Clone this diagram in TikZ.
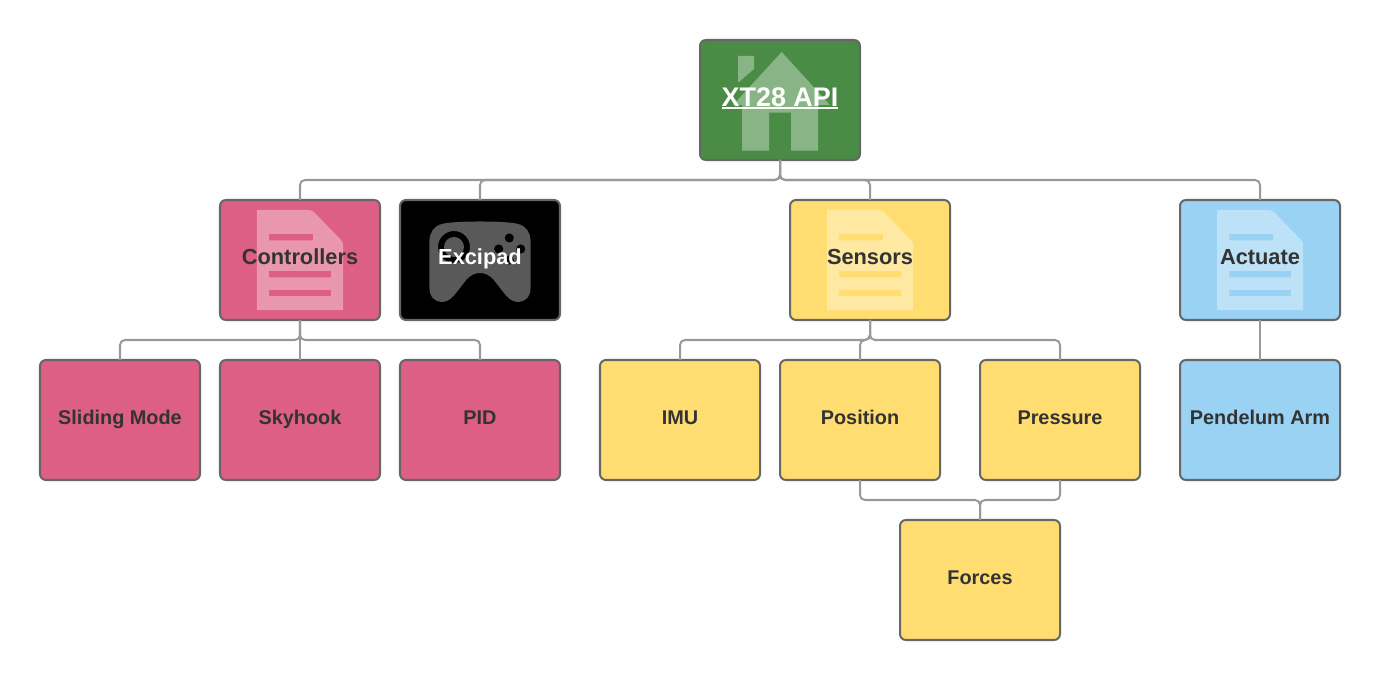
\documentclass[tikz,border=0pt]{standalone}
\usepackage{fontspec}
\usetikzlibrary{backgrounds}
\setmainfont{Liberation Sans}

\definecolor{boxgreen}{HTML}{4A8C46}
\definecolor{boxpink}{HTML}{DE5F85}
\definecolor{boxyellow}{HTML}{FFDD71}
\definecolor{boxblue}{HTML}{9AD2F4}
\definecolor{boxline}{HTML}{666666}
\definecolor{linkline}{HTML}{999999}
\definecolor{boxtext}{HTML}{333333}

\newcommand{\barunder}[1]{\setbox0=\hbox{#1}\rlap{\rule[-1.9pt]{\wd0}{1.15pt}}#1}

\tikzset{
    box/.style={rectangle, draw=boxline, line width=1.15pt, rounded corners=0.12cm, minimum width=3.2cm, minimum height=2.4cm, inner sep=0pt, outer sep=0pt, text height=4.6pt, text depth=0pt, text=boxtext, font=\fontsize{11.3}{13}\selectfont\bfseries},
    bigbox/.style={box, font=\fontsize{12.4}{14}\selectfont\bfseries},
    rootbox/.style={box, text=white, text height=6.9pt, font=\fontsize{15.3}{17}\selectfont\bfseries},
    link/.style={draw=linkline, line width=1.15pt, rounded corners=0.1cm},
    icon/.style={fill=white, fill opacity=0.35, even odd rule, draw=none},
    docicon/.pic={
        \path[icon, x=0.02cm, y=0.02cm] (-43,50) -- (8,50) .. controls (11,50) and (13,49) .. (15,47) -- (41,20) .. controls (43,18) and (43,16) .. (43,14) -- (43,-50) -- (-43,-50) -- cycle
            (-31,26) rectangle (13,19.5)
            (-31,-11) rectangle (31,-17.5)
            (-31,-30) rectangle (31,-36);
    },
    houseicon/.pic={
        \path[icon, x=0.02cm, y=0.02cm] (1.7,48) -- (50,-5) -- (38,-5) -- (38,-50.7) -- (11,-50.7) -- (11,-12.7) -- (-11,-12.7) -- (-11,-50.7) -- (-38,-50.7) -- (-38,-5) -- (-47,-5) -- cycle;
        \path[icon, x=0.02cm, y=0.02cm] (-42,44) -- (-26,44) -- (-26,31) -- (-41,18) -- (-42,18) -- cycle;
    },
    padicon/.pic={
        \path[icon, x=0.02cm, y=0.02cm] (0,38.5) .. controls (15,38.5) and (30,38) .. (38,36) .. controls (46,34) and (50,28) .. (50.5,20)
            -- (50.5,-28) .. controls (50.5,-37) and (45,-42) .. (38,-42) .. controls (32,-42) and (28,-38) .. (24,-33)
            -- (13,-19) .. controls (9,-15) and (5,-13) .. (0,-13) .. controls (-5,-13) and (-9,-15) .. (-13,-19)
            -- (-24,-33) .. controls (-28,-38) and (-32,-42) .. (-38,-42) .. controls (-45,-42) and (-50.5,-37) .. (-50.5,-28)
            -- (-50.5,20) .. controls (-50,28) and (-46,34) .. (-38,36) .. controls (-30,38) and (-15,38.5) .. (0,38.5) -- cycle
            (-26,13) circle (16) (-26,13) circle (10)
            (29.3,22) circle (4.7) (18.7,11) circle (4.7) (40.7,11) circle (4.7) (29.3,0) circle (4.7);
    }
}

\begin{document}
\begin{tikzpicture}
    \useasboundingbox (0,0) rectangle (27.6,13.6);

    % Draw nodes
    \node[rootbox] (root) at (15.6,11.6) {\barunder{XT28 API}};

    \node[bigbox] (controllers) at (6,8.4) {Controllers};
    \node[bigbox, text=white] (excipad) at (9.6,8.4) {Excipad};
    \node[bigbox] (sensors) at (17.4,8.4) {Sensors};
    \node[bigbox] (actuate) at (25.2,8.4) {Actuate};

    \node[box, fill=boxpink] (sliding) at (2.4,5.2) {Sliding Mode};
    \node[box, fill=boxpink] (skyhook) at (6,5.2) {Skyhook};
    \node[box, fill=boxpink] (pid) at (9.6,5.2) {PID};
    \node[box, fill=boxyellow] (imu) at (13.6,5.2) {IMU};
    \node[box, fill=boxyellow] (position) at (17.2,5.2) {Position};
    \node[box, fill=boxyellow] (pressure) at (21.2,5.2) {Pressure};
    \node[box, fill=boxblue] (pendelum) at (25.2,5.2) {Pendelum Arm};
    \node[box, fill=boxyellow] (forces) at (19.6,2) {Forces};

    % Fills and icons go behind the labels
    \begin{scope}[on background layer]
        \foreach \name/\shade/\glyph in {root/boxgreen/houseicon, controllers/boxpink/docicon, excipad/black/padicon, sensors/boxyellow/docicon, actuate/boxblue/docicon} {
            \fill[\shade, rounded corners=0.12cm] (\name.south west) rectangle (\name.north east);
            \pic at (\name) {\glyph};
        }
    \end{scope}

    % Draw connections
    \foreach \from/\to in {root/controllers, root/excipad, root/sensors, root/actuate, controllers/sliding, controllers/skyhook, controllers/pid, sensors/imu, sensors/position, sensors/pressure, actuate/pendelum, position/forces, pressure/forces}
        \draw[link] (\from.south) -- ++(0,-0.4) -| (\to.north);
\end{tikzpicture}
\end{document}
